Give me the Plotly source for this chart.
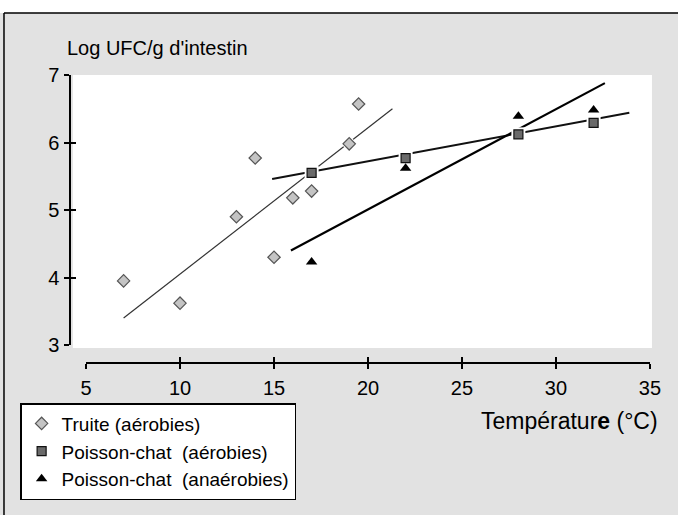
import plotly.graph_objects as go

# ---- data ----
truite_x = [7, 10, 13, 14, 15, 16, 17, 19, 19.5]
truite_y = [3.95, 3.62, 4.90, 5.77, 4.30, 5.18, 5.28, 5.98, 6.57]
truite_fit_x = [7, 21.3]
truite_fit_y = [3.40, 6.50]

pc_aer_x = [17, 22, 28, 32]
pc_aer_y = [5.55, 5.77, 6.12, 6.29]
pc_aer_fit_x = [14.9, 33.9]
pc_aer_fit_y = [5.46, 6.44]

pc_ana_x = [17, 22, 28, 32]
pc_ana_y = [4.23, 5.62, 6.39, 6.48]
pc_ana_fit_x = [15.9, 32.6]
pc_ana_fit_y = [4.40, 6.88]

x_ticks = [5, 10, 15, 20, 25, 30, 35]
y_ticks = [3, 4, 5, 6, 7]

names = ["Truite (aérobies)",
         "Poisson-chat\u00a0 (aérobies)",
         "Poisson-chat\u00a0 (anaérobies)"]

FONT = "Liberation Sans, Arial, sans-serif"
BG = "#e2e2e2"

fig = go.Figure()

# fit lines
fig.add_trace(go.Scatter(x=truite_fit_x, y=truite_fit_y, mode="lines",
                         line=dict(color="#333333", width=1.2), showlegend=False, hoverinfo="skip"))
fig.add_trace(go.Scatter(x=pc_aer_fit_x, y=pc_aer_fit_y, mode="lines",
                         line=dict(color="#111111", width=2), showlegend=False, hoverinfo="skip"))
fig.add_trace(go.Scatter(x=pc_ana_fit_x, y=pc_ana_fit_y, mode="lines",
                         line=dict(color="#000000", width=2.2), showlegend=False, hoverinfo="skip"))

# white halos around markers (lines break around them)
for xs, ys, sym, sz in [(truite_x, truite_y, "diamond", 13),
                        (pc_aer_x, pc_aer_y, "square", 14),
                        (pc_ana_x, pc_ana_y, "triangle-up", 13)]:
    fig.add_trace(go.Scatter(x=xs, y=ys, mode="markers", showlegend=False, hoverinfo="skip",
                             marker=dict(symbol=sym, size=sz, color="white", line=dict(width=0))))

# markers
fig.add_trace(go.Scatter(x=truite_x, y=truite_y, mode="markers", name=names[0],
                         marker=dict(symbol="diamond", size=9.5, color="#c4c4c4",
                                     line=dict(color="#555555", width=1.2))))
fig.add_trace(go.Scatter(x=pc_aer_x, y=pc_aer_y, mode="markers", name=names[1],
                         marker=dict(symbol="square", size=9, color="#6a6a6a",
                                     line=dict(color="#111111", width=1.2))))
fig.add_trace(go.Scatter(x=pc_ana_x, y=pc_ana_y, mode="markers", name=names[2],
                         marker=dict(symbol="triangle-up", size=10, color="#000000",
                                     line=dict(color="#000000", width=0))))

axis_common = dict(showgrid=False, zeroline=False, showline=True, linecolor="black",
                   linewidth=1.5, tickcolor="black", tickwidth=1.5, ticklen=5)
tickfont = dict(family=FONT, size=20, color="black")

fig.update_layout(
    width=678, height=515,
    margin=dict(l=70, r=28, t=75, b=152),
    paper_bgcolor=BG, plot_bgcolor="rgba(0,0,0,0)",
    font=dict(family=FONT, color="black"),
    xaxis=dict(range=[5, 35], domain=[0.0276, 1], anchor="free", position=0,
               tickmode="array", tickvals=x_ticks, ticks="outside",
               ticklabelstandoff=2, tickfont=tickfont, **axis_common),
    xaxis2=dict(range=[5, 35], domain=[0.0276, 1], anchor="free", position=0,
                overlaying="x", tickmode="array", tickvals=x_ticks, ticks="inside",
                showticklabels=False, **axis_common),
    yaxis=dict(range=[3, 7], domain=[0.0625, 1], anchor="free", position=0,
               tickmode="array", tickvals=y_ticks, ticks="outside",
               ticklabelstandoff=1, tickfont=tickfont, **axis_common),
    yaxis2=dict(range=[3, 7], domain=[0.0625, 1], anchor="free", position=0,
                overlaying="y", tickmode="array", tickvals=y_ticks, ticks="inside",
                showticklabels=False, **axis_common),
    legend=dict(x=-0.086, y=-0.139, xanchor="left", yanchor="top",
                bgcolor="white", bordercolor="black", borderwidth=1.5,
                font=dict(family=FONT, size=19, color="black"),
                itemsizing="trace"),
    showlegend=True,
)

# dummy trace to activate the overlay axes
fig.add_trace(go.Scatter(x=[None], y=[None], xaxis="x2", yaxis="y2", showlegend=False, hoverinfo="skip"))

fig.update_layout(shapes=[
    # white plotting panel
    dict(type="rect", xref="paper", yref="paper", x0=0.005, x1=1.0034, y0=0.052, y1=1.0,
         fillcolor="white", line=dict(width=0), layer="below"),
    # white strip above frame
    dict(type="rect", xref="paper", yref="paper", x0=-0.13, x1=1.06, y0=1.215, y1=1.27,
         fillcolor="white", line=dict(width=0), layer="below"),
    # frame lines
    dict(type="line", xref="paper", yref="paper", x0=-0.1138, x1=1.06, y0=1.215, y1=1.215,
         line=dict(color="black", width=1.5)),
    dict(type="line", xref="paper", yref="paper", x0=-0.1138, x1=-0.1138, y0=1.215, y1=-0.53,
         line=dict(color="black", width=1.5)),
])

fig.add_annotation(text="Log UFC/g d'intestin", xref="paper", yref="paper",
                   x=-0.0086, y=1.094, xanchor="left", yanchor="middle", showarrow=False,
                   font=dict(family=FONT, size=20, color="black"))
fig.add_annotation(text="Températur<b>e</b> (°C)", xref="paper", yref="paper",
                   x=1.017, y=-0.201, xanchor="right", yanchor="middle", showarrow=False,
                   font=dict(family=FONT, size=23, color="black"))

fig.write_html("out.html", config={"displayModeBar": False},
               post_script="document.body.style.margin='0';document.body.style.overflow='hidden';")
